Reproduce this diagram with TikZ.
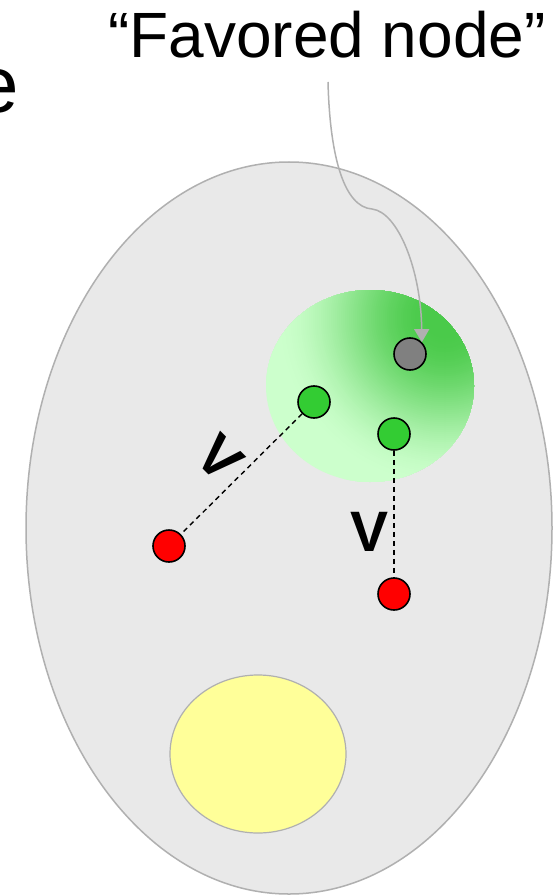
\documentclass[tikz,border=0pt]{standalone}
\usepackage{fontspec}
\setmainfont{Liberation Sans}
\usetikzlibrary{arrows.meta,shapes.geometric}

\definecolor{cellfill}{HTML}{E9E9E9}
\definecolor{cellline}{HTML}{B0B0B0}
\definecolor{yolkfill}{HTML}{FFFF99}
\definecolor{dotgreen}{HTML}{33CC33}
\definecolor{dotred}{HTML}{FF0000}
\definecolor{dotgray}{HTML}{808080}
\definecolor{gdark}{HTML}{4ACA4A}
\definecolor{glight}{HTML}{CCFFCC}

\tikzset{
  region/.style={ellipse, inner sep=0pt, outer sep=0pt},
  dot/.style={circle, draw=black, line width=1.6pt, minimum size=32pt, inner sep=0pt},
  link/.style={draw=black, line width=1.4pt, dash pattern=on 5pt off 4pt},
  pointer/.style={draw=cellline, line width=1.5pt, -{Triangle[length=13pt,width=15pt]}},
  vlabel/.style={inner sep=0pt, font=\fontsize{57}{57}\selectfont\bfseries},
}

\begin{document}
\begin{tikzpicture}[x=1pt,y=-1pt]
  \useasboundingbox (0,0) rectangle (554,896);
  \clip (0,0) rectangle (554,896);
  \fill[white] (0,0) rectangle (554,896);

  % headings
  \node[anchor=base east, inner sep=0pt, font=\fontsize{80}{80}\selectfont] (word) at (19,113) {e};
  \node[anchor=base west, inner sep=0pt, font=\fontsize{64}{64}\selectfont] (tag) at (108,58) {“Favored node”};

  % regions
  \node[region, draw=cellline, fill=cellfill, line width=1.5pt,
        minimum width=526pt, minimum height=732pt] (cell) at (289,528) {};
  \node[region, minimum width=208pt, minimum height=192pt] (zone) at (370,386) {};
  \node[region, draw=cellline, fill=yolkfill, line width=1.2pt,
        minimum width=176pt, minimum height=158pt] (yolk) at (258,754) {};

  % green glow inside the zone, strongest at its upper right rim
  \coordinate (glow) at (445,318);
  \begin{scope}
    \clip (zone.center) ellipse [x radius=104, y radius=96];
    \fill[glight] (zone.center) ellipse [x radius=104, y radius=96];
    \foreach \r in {190,188,...,2}{
      \pgfmathsetmacro\u{min(max((\r-15)/155,0),1)}%
      \pgfmathsetmacro\q{100*(3*\u*\u-2*\u*\u*\u)}%
      \edef\mix{glight!\q!gdark}%
      \fill[color=\mix] (glow) circle [radius=\r];
    }
  \end{scope}

  % nodes
  \node[dot, fill=dotgray]  (fav) at (410,354) {};
  \node[dot, fill=dotgreen] (g1)  at (314,402) {};
  \node[dot, fill=dotgreen] (g2)  at (394,434) {};
  \node[dot, fill=dotred]   (r1)  at (169,546) {};
  \node[dot, fill=dotred]   (r2)  at (394,594) {};

  % dashed links
  \draw[link] (g1) -- (r1);
  \draw[link] (g2) -- (r2);

  % comparison marks
  \node[vlabel, rotate=-45] (v1) at (220,458) {V};
  \node[vlabel] (v2) at (370,532) {V};

  % pointer to the favored node
  \coordinate (tail) at (328,82);
  \draw[pointer] (tail) .. controls (330,160) and (345,207) .. (372,209)
                        .. controls (398,212) and (421,270) .. (fav.north east);
\end{tikzpicture}
\end{document}
